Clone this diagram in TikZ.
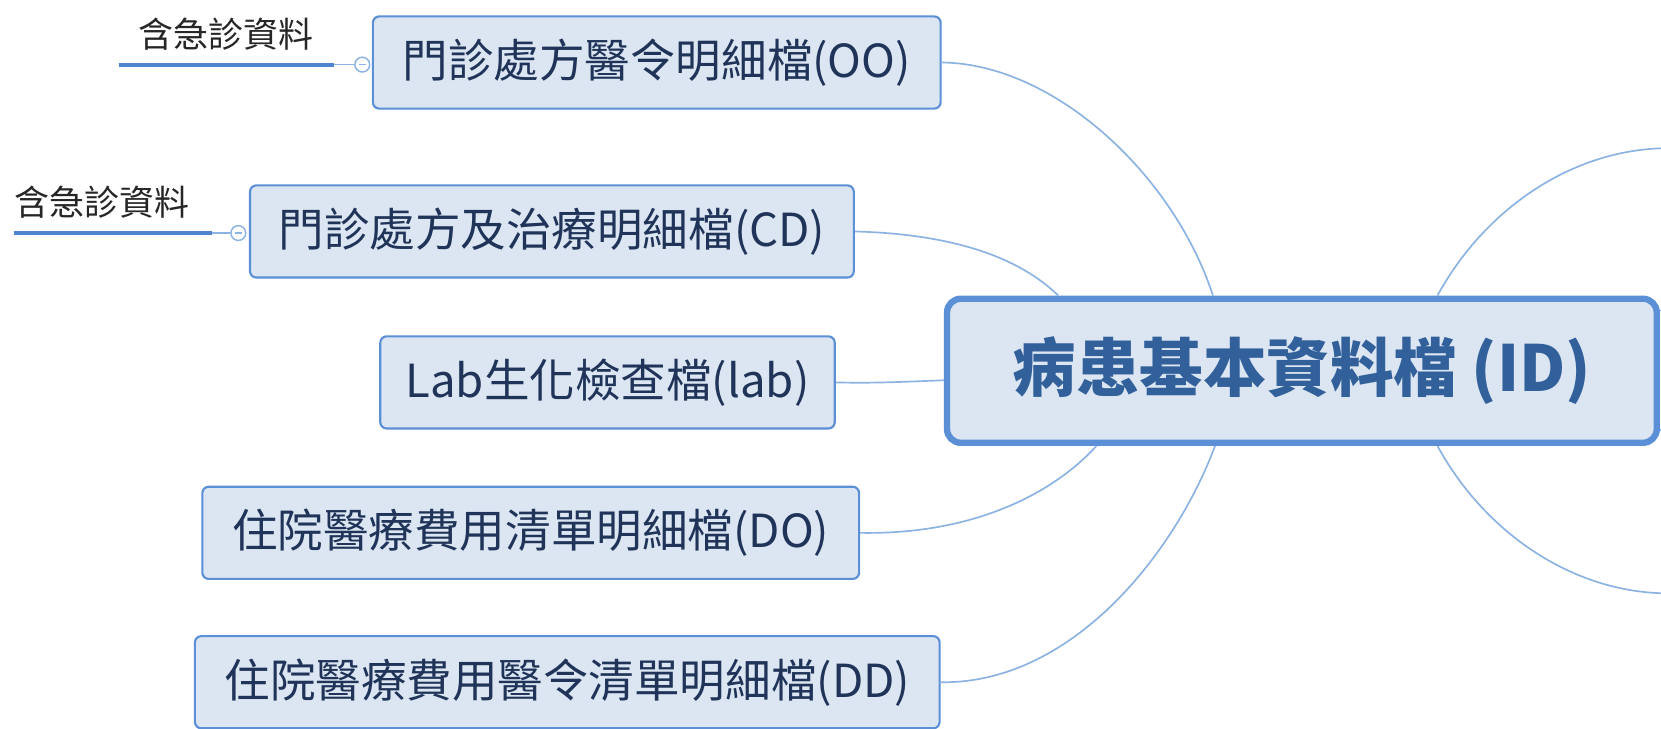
\documentclass[tikz,border=0pt]{standalone}
\usepackage{fontspec}
\setmainfont{Noto Sans CJK TC}
\definecolor{boxfill}{HTML}{DCE6F2}
\definecolor{boxline}{HTML}{5B8FD6}
\definecolor{boxtext}{HTML}{1F3458}
\definecolor{idtext}{HTML}{31609A}
\definecolor{conn}{HTML}{8DB3E2}
\definecolor{uline}{HTML}{4F82D0}
\definecolor{labtext}{HTML}{262626}
\begin{document}
\begin{tikzpicture}[x=1pt,y=1pt,
  child/.style={draw=boxline, line width=2pt, fill=boxfill, rounded corners=6pt,
    text=boxtext, inner sep=0pt, minimum height=87pt,
    font=\fontsize{43}{50}\selectfont},
  central/.style={draw=boxline, line width=6pt, fill=boxfill, rounded corners=13pt,
    text=idtext, inner sep=0pt, minimum width=670pt, minimum height=136pt,
    font=\fontsize{60}{68}\selectfont\bfseries},
  note/.style={text=labtext, inner sep=0pt, font=\fontsize{33}{38}\selectfont},
  link/.style={draw=conn, line width=1.6pt},
  underl/.style={draw=uline, line width=4pt},
  knob/.style={circle, draw=conn, line width=1.4pt, fill=white, inner sep=0pt, minimum size=14pt},
]
\useasboundingbox (0,0) rectangle (1568,-688);

% central node
\node[central] (c) at (1229,-350) {病患基本資料檔 (ID)};

% child nodes
\node[child, minimum width=536pt] (oo)  at (620,-59)   {門診處方醫令明細檔(OO)};
\node[child, minimum width=570pt] (cd)  at (521,-218.5) {門診處方及治療明細檔(CD)};
\node[child, minimum width=429pt] (lab) at (573.5,-361) {Lab生化檢查檔(lab)};
\node[child, minimum width=620pt] (do)  at (501,-503)  {住院醫療費用清單明細檔(DO)};
\node[child, minimum width=703pt] (dd)  at (535.5,-644) {住院醫療費用醫令清單明細檔(DD)};

% notes
\node[note] (n1) at (213,-32) {含急診資料};
\node[note] (n2) at (96,-191) {含急診資料};
\coordinate (u1a) at (112,-61);
\coordinate (u1b) at (315,-61);
\coordinate (u2a) at (13,-220);
\coordinate (u2b) at (200,-220);
\node[knob] (k1) at (342,-61) {};
\node[knob] (k2) at (225,-220) {};
\draw[conn, line width=1.2pt] ([xshift=-3.5pt]k1.center) -- ([xshift=3.5pt]k1.center);
\draw[conn, line width=1.2pt] ([xshift=-3.5pt]k2.center) -- ([xshift=3.5pt]k2.center);
\draw[underl] (u1a) -- (u1b);
\draw[underl] (u2a) -- (u2b);
\draw[link] (u1b) -- (k1.west);
\draw[link] (u2b) -- (k2.west);

% free ends toward off-picture nodes
\coordinate (r1) at (1568,-140);
\coordinate (r2) at (1568,-560);
\coordinate (r3) at (1568,-293);
\coordinate (r4) at (1568,-406);

% connectors (left side)
\draw[link] (oo.east) .. controls (995,-60) and (1108,-165) .. ([xshift=254pt]c.north west);
\draw[link] (cd.east) .. controls (900,-221) and (962,-243) .. ([xshift=108pt]c.north west);
\draw[link] (lab.east) .. controls (830,-362) and (860,-360) .. ([yshift=-9pt]c.west);
\draw[link] (do.east) .. controls (920,-505) and (995,-465) .. ([xshift=144pt]c.south west);
\draw[link] (dd.east) .. controls (1010,-646) and (1108,-525) .. ([xshift=256pt]c.south west);

% connectors (right side, to nodes beyond the picture)
\draw[link] ([xshift=-210pt]c.north east) .. controls (1400,-200) and (1480,-143) .. (r1);
\draw[link] ([xshift=-210pt]c.south east) .. controls (1400,-500) and (1480,-557) .. (r2);
\draw[link] (c.east |- r3) -- (r3);
\draw[link] (c.east |- r4) -- (r4);
\end{tikzpicture}
\end{document}
